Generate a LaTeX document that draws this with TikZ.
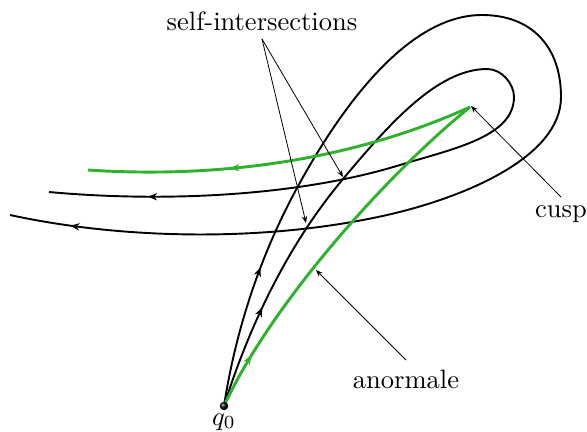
\documentclass[tikz,border=0pt]{standalone}
\usetikzlibrary{arrows.meta,decorations.markings}
\definecolor{anogreen}{RGB}{46,178,46}
\tikzset{
  curve/.style={line width=0.72pt, black},
  greencurve/.style={line width=1.1pt, anogreen},
  arrowat/.style={postaction={decorate,decoration={markings,
      mark=at position #1 with {\arrow{Stealth[length=3.4pt,width=2.8pt]}}}}},
  pointer/.style={line width=0.3pt, -{Stealth[length=2.6pt,width=2pt]}},
  lbl/.style={anchor=base, inner sep=0pt, font=\normalsize},
}
\begin{document}
\begin{tikzpicture}[x=0.377pt,y=-0.377pt]
\useasboundingbox (0,0) rectangle (587,431);

% outer black curve
\draw[curve, arrowat=0.117, arrowat=0.95]
  (224,406) .. controls (235.7,330) and (260.2,255.6) .. (297,188)
            .. controls (340,109) and (407,15) .. (482,15)
            .. controls (532,15) and (561,47) .. (561,97)
            .. controls (561,157) and (465,197.3) .. (387,215)
            .. controls (270,241.5) and (127,240.4) .. (10,215);

% middle black curve
\draw[curve, arrowat=0.1075, arrowat=0.899]
  (224,406) .. controls (249.5,325) and (288.3,244.1) .. (343,179)
            .. controls (388,125.4) and (437,69) .. (487,69)
            .. controls (502,69) and (514,84) .. (514,97)
            .. controls (514,137) and (452.6,148.8) .. (400,165)
            .. controls (294.8,197.3) and (158.6,202.1) .. (49,192);

% green abnormal curve (with cusp)
\draw[greencurve, arrowat=0.147]
  (224,406) .. controls (270,306) and (384.5,176.3) .. (470,107);
\draw[greencurve, arrowat=0.636]
  (470,107) .. controls (351.7,160.8) and (217.7,178.6) .. (88,170);

% starting point
\node[circle, shading=ball, ball color=black, inner sep=0pt, minimum size=3.2pt] (q0) at (224,406) {};
\node[lbl] (q0lbl) at (224,425) {$q_0$};

% labels
\node[lbl] (self) at (262,30) {self-intersections};
\node[lbl] (cusp) at (561,217) {cusp};
\node[lbl] (ano) at (406,388) {anormale};

\coordinate (selfpt) at (262,39);
\coordinate (si1) at (343,177);
\coordinate (si2) at (306,223);
\coordinate (cusppt) at (561,197);
\coordinate (cusptip) at (471,106);
\coordinate (anopt) at (406,360);
\coordinate (anotip) at (316,270);

\draw[pointer] (selfpt) -- (si1);
\draw[pointer] (selfpt) -- (si2);
\draw[pointer] (cusppt) -- (cusptip);
\draw[pointer] (anopt) -- (anotip);
\end{tikzpicture}
\end{document}
